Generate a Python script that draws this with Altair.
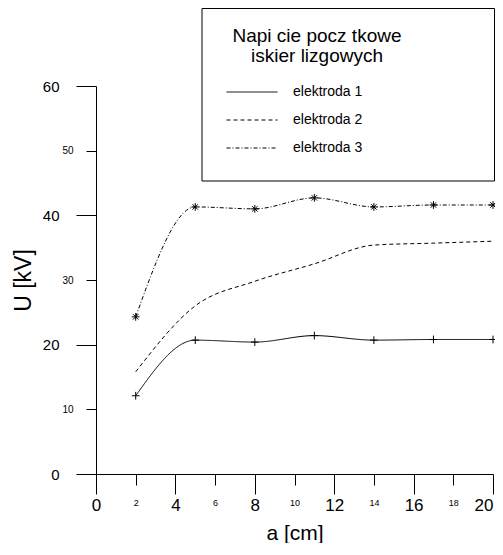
import altair as alt
import pandas as pd

# --- data ---
a_cm = [2, 5, 8, 11, 14, 17, 20]
u_e1 = [12.1, 20.7, 20.4, 21.4, 20.7, 20.8, 20.8]
u_e2 = [15.8, 26.0, 29.8, 32.5, 35.4, 35.7, 36.0]
u_e3 = [24.3, 41.3, 41.0, 42.7, 41.3, 41.6, 41.6]
series = ["elektroda 1", "elektroda 2", "elektroda 3"]
legend_title = ["Napi cie pocz tkowe", "iskier  lizgowych"]
x_major = [0, 4, 8, 12, 16, 20]
x_minor = [2, 6, 10, 14, 18]
y_major = [0, 20, 40, 60]
y_minor = [10, 30, 50]

FONT = "Liberation Sans"

rows = []
for name, vals in zip(series, [u_e1, u_e2, u_e3]):
    for a, u in zip(a_cm, vals):
        rows.append({"a": a, "U": u, "seria": name})
df = pd.DataFrame(rows)

plus_path = "M-1,0H1M0,-1V1"
star_path = "M-1,0H1M0,-1V1M-0.7,-0.7L0.7,0.7M-0.7,0.7L0.7,-0.7"

common = dict(
    grid=False,
    domainColor="black",
    tickColor="black",
    labelColor="black",
    titleColor="black",
    labelFont=FONT,
    titleFont=FONT,
    titleFontWeight="normal",
    labelFlush=False,
    labelOverlap=False,
)

x_axis_major = alt.Axis(
    values=x_major,
    orient="bottom",
    title="a [cm]",
    titleFontSize=21,
    titleBaseline="alphabetic",
    titleY=65,
    tickSize=20,
    labelFontSize=17,
    labelPadding=3,
    labelAlign={"condition": {"test": "datum.value == 20", "value": "right"}, "value": "center"},
    **common,
)
x_axis_minor = alt.Axis(
    values=x_minor,
    orient="bottom",
    title=None,
    domain=False,
    tickSize=11,
    labelFontSize=9,
    labelPadding=13,
    **common,
)
y_axis_major = alt.Axis(
    values=y_major,
    orient="left",
    title="U [kV]",
    titleFontSize=23,
    titleAngle=270,
    titleBaseline="alphabetic",
    titleX=-66,
    titleY=194,
    tickSize=20,
    labelFontSize=15,
    labelPadding=17,
    **common,
)
y_axis_minor = alt.Axis(
    values=y_minor,
    orient="left",
    title=None,
    domain=False,
    tickSize=10,
    labelFontSize=10,
    labelPadding=13,
    **common,
)

x_scale = alt.Scale(domain=[0, 20], nice=False)
y_scale = alt.Scale(domain=[0, 60], nice=False)

one = pd.DataFrame({"b": [0]})

box = alt.Chart(one).mark_rect(
    fill="white", stroke="black", strokeWidth=1
).encode(
    x=alt.value(106), x2=alt.value(398.5), y=alt.value(-77.5), y2=alt.value(95)
)

box_title = alt.Chart(one).mark_text(
    text=legend_title,
    font=FONT,
    fontSize=19,
    lineHeight=20,
    align="center",
    baseline="alphabetic",
    color="black",
).encode(x=alt.value(221), y=alt.value(-44))

lines = alt.Chart(df).mark_line(
    interpolate="monotone", color="black", strokeWidth=1
).encode(
    x=alt.X("a:Q", scale=x_scale, axis=x_axis_major),
    y=alt.Y("U:Q", scale=y_scale, axis=y_axis_major),
    strokeDash=alt.StrokeDash(
        "seria:N",
        scale=alt.Scale(domain=series, range=[[1, 0], [4, 3], [4, 2, 1, 2]]),
        legend=alt.Legend(
            orient="none",
            legendX=130,
            legendY=-8,
            title=None,
            symbolType="stroke",
            symbolSize=2601,
            symbolStrokeWidth=1,
            symbolStrokeColor="black",
            labelFont=FONT,
            labelFontSize=14,
            labelColor="black",
            labelOffset=15,
            clipHeight=28,
            rowPadding=0,
            padding=0,
        ),
    ),
)

points = alt.Chart(df).transform_filter(
    alt.datum.seria != "elektroda 2"
).mark_point(filled=False, color="black", strokeWidth=1, opacity=1, size=60).encode(
    x=alt.X("a:Q", scale=x_scale, axis=x_axis_minor),
    y=alt.Y("U:Q", scale=y_scale, axis=y_axis_minor),
    shape=alt.Shape(
        "seria:N",
        scale=alt.Scale(domain=["elektroda 1", "elektroda 3"], range=[plus_path, star_path]),
        legend=None,
    ),
)

chart = alt.layer(box, box_title, lines, points).resolve_scale(
    x="shared", y="shared"
).resolve_axis(
    x="independent", y="independent"
).properties(
    width=397,
    height=388,
    autosize=alt.AutoSizeParams(type="none"),
    padding={"left": 88, "top": 78, "right": 2, "bottom": 69},
    background="white",
).configure_view(stroke=None)

chart.save("out.html", embed_options={"renderer": "svg", "actions": False})
